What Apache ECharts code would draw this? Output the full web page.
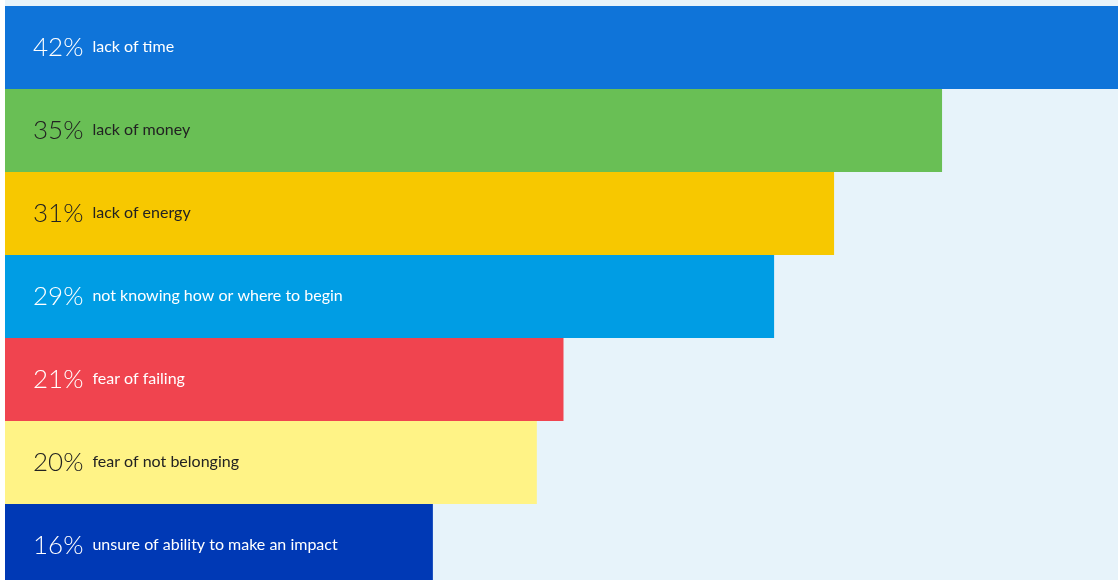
<!DOCTYPE html>
<html lang="en">
<head>
  <meta charset="UTF-8">
  <title>Barriers</title>
  <script src="https://cdn.jsdelivr.net/npm/echarts@6/dist/echarts.min.js"></script>
  <style>
    body { margin: 0; padding: 0; background: #ffffff; }
    #main { width: 1118px; height: 580px; }
  </style>
</head>
<body>
  <div id="main"></div>
  <script>
    // data
    var categories = ['lack of time', 'lack of money', 'lack of energy', 'not knowing how or where to begin', 'fear of failing', 'fear of not belonging', 'unsure of ability to make an impact'];
    var percentLabels = ['42%', '35%', '31%', '29%', '21%', '20%', '16%'];
    // bar lengths
    var values = [42, 35.15, 31.1, 28.85, 20.95, 19.95, 16.05];
    var barColors = ['#0f74d9', '#69bf55', '#f7c800', '#009de4', '#f0444f', '#fff386', '#0039b5'];
    var textColors = ['#ffffff', '#222222', '#222222', '#ffffff', '#ffffff', '#222222', '#ffffff'];

    var chart = echarts.init(document.getElementById('main'));

    var option = {
      animation: false,
      graphic: [{
        type: 'rect',
        z: -10,
        shape: { x: 5, y: 0, width: 1113, height: 580 },
        style: { fill: '#e7f3fa' }
      }],
      grid: { left: 5, top: 6, width: 1113, height: 581, outerBoundsMode: 'none' },
      xAxis: { type: 'value', min: 0, max: 41.75, show: false },
      yAxis: {
        type: 'category',
        inverse: true,
        data: categories,
        show: false
      },
      series: [{
        type: 'bar',
        barWidth: '100%',
        barCategoryGap: 0,
        data: values.map(function (v, i) {
          return {
            value: v,
            itemStyle: { color: barColors[i] },
            label: {
              color: textColors[i],
              rich: {
                p: { fontSize: 26, fontWeight: 300, color: textColors[i], fontFamily: 'Lato', padding: [0, 9, 0, 0] },
                l: { fontSize: 16, color: textColors[i], fontFamily: 'Lato', padding: [0, 0, 2, 0] }
              }
            }
          };
        }),
        label: {
          show: true,
          position: 'insideLeft',
          distance: 28,
          formatter: function (p) {
            return '{p|' + percentLabels[p.dataIndex] + '}{l|' + categories[p.dataIndex] + '}';
          }
        }
      }]
    };

    chart.setOption(option);
  </script>
</body>
</html>
